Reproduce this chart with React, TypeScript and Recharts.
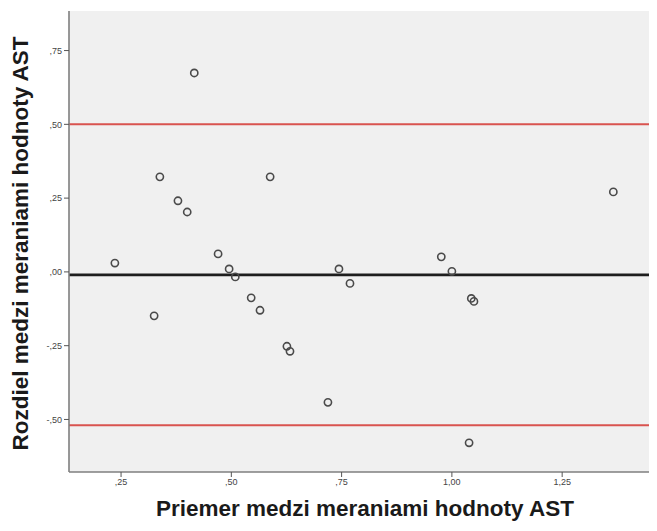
import React from 'react';
import { ScatterChart, Scatter, XAxis, YAxis, CartesianGrid, ReferenceLine, Label } from 'recharts';

const avgValues = [0.236, 0.325, 0.338, 0.379, 0.400, 0.416, 0.470, 0.495, 0.509, 0.545, 0.565, 0.588, 0.626, 0.633, 0.744, 0.769, 0.719, 0.976, 1.000, 1.044, 1.050, 1.366, 1.039];
const diffValues = [0.030, -0.149, 0.322, 0.241, 0.203, 0.674, 0.061, 0.010, -0.017, -0.088, -0.130, 0.322, -0.252, -0.269, 0.010, -0.039, -0.442, 0.051, 0.002, -0.090, -0.100, 0.271, -0.579];

const xTicks = [0.25, 0.5, 0.75, 1.0, 1.25];
const yTicks = [-0.5, -0.25, 0, 0.25, 0.5, 0.75];

const meanDiff = -0.01;
const upperLimit = 0.5;
const lowerLimit = -0.52;

const xTitle = 'Priemer medzi meraniami hodnoty AST';
const yTitle = 'Rozdiel medzi meraniami hodnoty AST';

const data = avgValues.map((x, i) => ({ x, y: diffValues[i] }));

const fmt = (v: number) => {
  const s = Math.abs(v).toFixed(2).replace('.', ',');
  const t = s.startsWith('0') ? s.slice(1) : s;
  return (v < 0 ? '-' : '') + t;
};

const Ring = (props: any) => {
  const { cx, cy } = props;
  if (cx == null || cy == null) return null;
  return <circle cx={cx} cy={cy} r={3.6} fill="none" stroke="#4a4a4a" strokeWidth={1.6} />;
};

const tickStyle = { fontSize: 9, fill: '#444', fontFamily: 'Liberation Sans, Arial, sans-serif' };
const titleStyle = { fontSize: 22.5, fontWeight: 700, fill: '#1a1a1a', fontFamily: 'Liberation Sans, Arial, sans-serif' };

export default function App() {
  return (
    <div style={{ width: 649, height: 515, background: '#fff' }}>
      <style>{'html,body{overflow:hidden}'}</style>
      <ScatterChart width={649} height={515} margin={{ top: 3, right: 0, bottom: 0, left: 0 }}>
        <CartesianGrid fill="#f0f0f0" horizontal={false} vertical={false} />
        <XAxis
          type="number"
          dataKey="x"
          domain={[0.132, 1.465]}
          ticks={xTicks}
          tickFormatter={fmt}
          height={51}
          allowDataOverflow
          axisLine={{ stroke: '#7f7f7f', strokeWidth: 1.6 }}
          tickLine={{ stroke: '#555' }}
          tickSize={5}
          tick={tickStyle}
        >
          <Label
            content={(p: any) => {
              const vb = p.viewBox || {};
              return (
                <text x={vb.x + vb.width / 2 + 2} y={vb.y + 44} textAnchor="middle" style={titleStyle}>
                  {xTitle}
                </text>
              );
            }}
          />
        </XAxis>
        <YAxis
          type="number"
          dataKey="y"
          domain={[-0.678, 0.884]}
          ticks={yTicks}
          tickFormatter={fmt}
          width={61}
          allowDataOverflow
          axisLine={{ stroke: '#7f7f7f', strokeWidth: 1.6 }}
          tickLine={{ stroke: '#555' }}
          tickSize={5}
          tick={tickStyle}
        >
          <Label
            content={(p: any) => {
              const vb = p.viewBox || {};
              const cx = 12;
              const cy = vb.y + vb.height / 2 + 2;
              return (
                <text
                  x={cx}
                  y={cy}
                  transform={`rotate(-90, ${cx}, ${cy})`}
                  textAnchor="middle"
                  dominantBaseline="central"
                  style={titleStyle}
                >
                  {yTitle}
                </text>
              );
            }}
          />
        </YAxis>
        <ReferenceLine y={upperLimit} stroke="#d9534f" strokeWidth={2} />
        <ReferenceLine y={lowerLimit} stroke="#d9534f" strokeWidth={2} />
        <ReferenceLine y={meanDiff} stroke="#1e1e1e" strokeWidth={2.6} />
        <Scatter data={data} shape={<Ring />} isAnimationActive={false} />
      </ScatterChart>
    </div>
  );
}
